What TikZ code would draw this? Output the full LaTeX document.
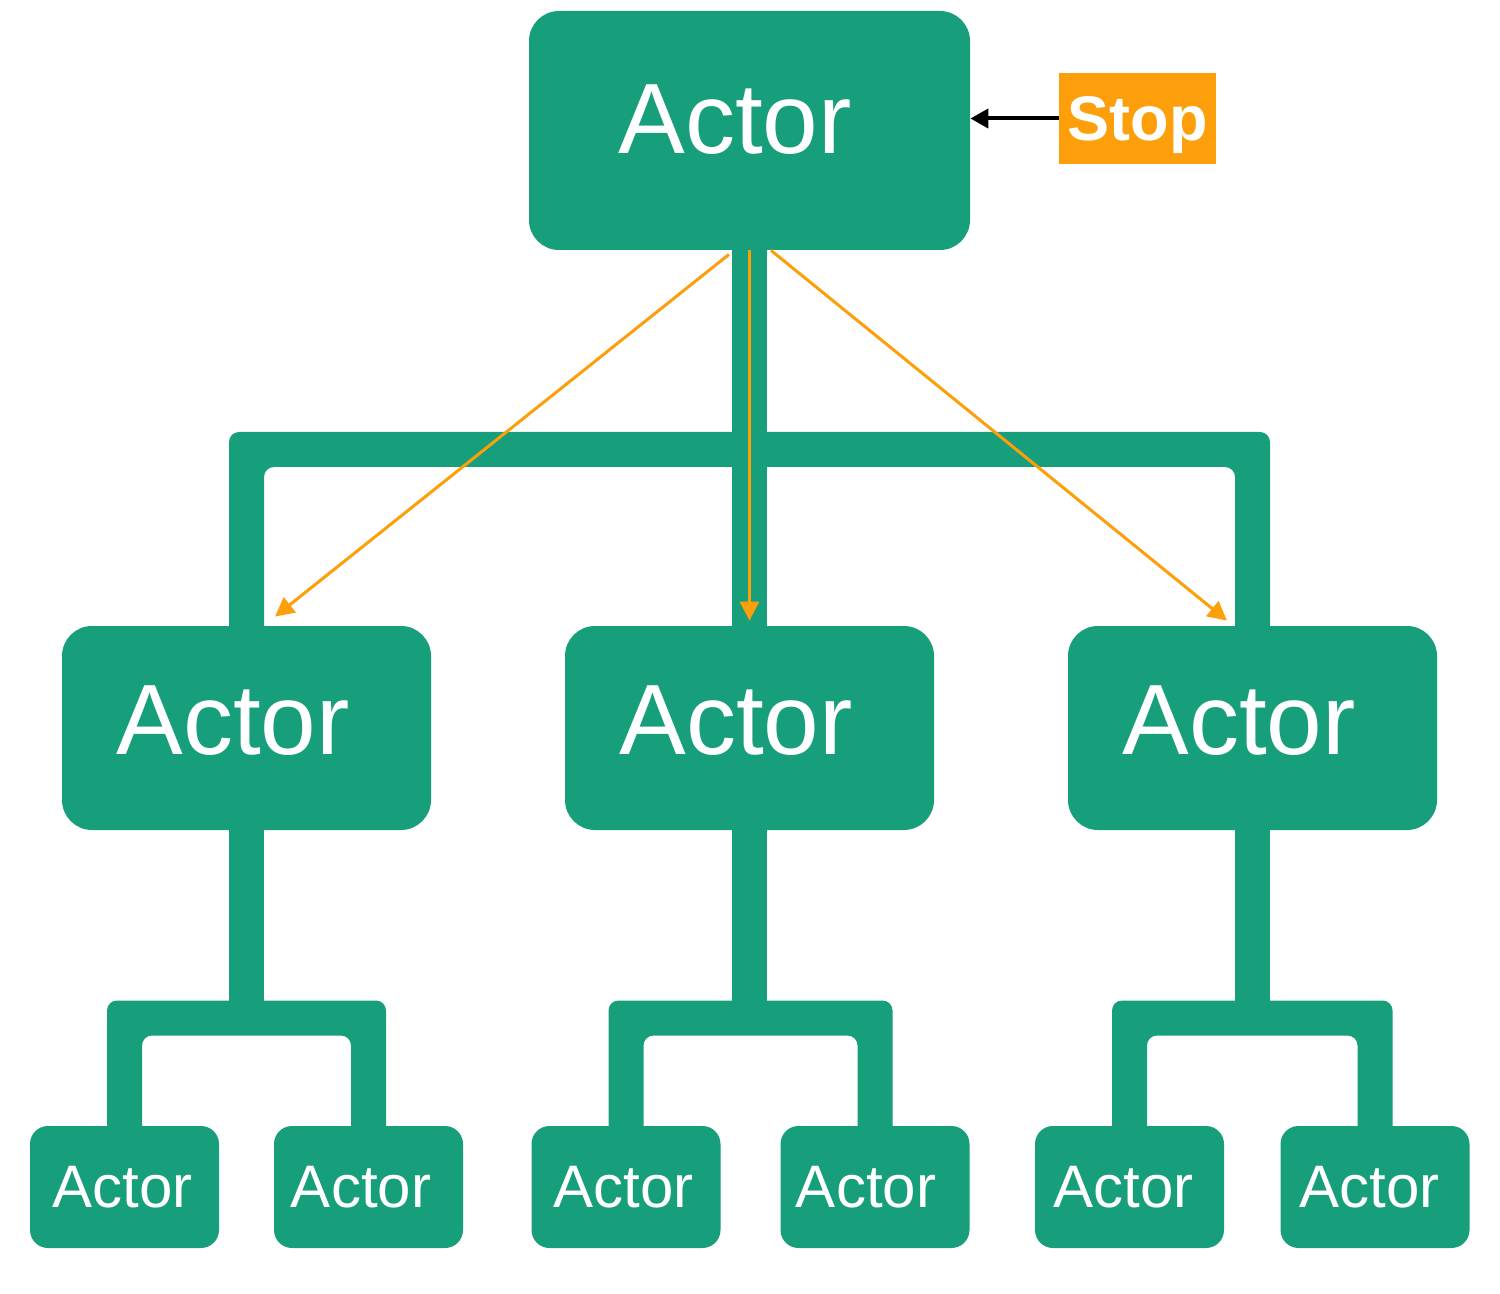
\documentclass[tikz,border=0pt]{standalone}
\usepackage{fontspec}
\setmainfont{Liberation Sans}
\usetikzlibrary{arrows.meta,calc}
\definecolor{actgreen}{RGB}{23,158,123}
\definecolor{stoporange}{RGB}{253,158,11}
\pgfdeclarelayer{background}
\pgfsetlayers{background,main}
\newcommand{\bigactor}{\raisebox{11pt}{\hspace*{-14.5pt}Actor}}
\newcommand{\midactor}{\raisebox{8pt}{\hspace*{-13.5pt}Actor}}
\newcommand{\smallactor}[1]{\hspace*{-#1pt}Actor}
\newcommand{\piconn}[3]{%
  \fill[conn] ([xshift=-8.75pt,yshift=-7pt]#1.north) |- ([yshift=8.75pt]#3)
    -| ([xshift=8.75pt,yshift=-7pt]#2.north) -- ([xshift=-8.75pt,yshift=-7pt]#2.north)
    |- ([yshift=-8.75pt]#3) -| ([xshift=8.75pt,yshift=-7pt]#1.north) -- cycle;}
\begin{document}
\begin{tikzpicture}[x=0.5pt,y=-0.5pt,
  actorbox/.style={fill=actgreen, text=white, inner sep=0pt},
  bigbox/.style={actorbox, minimum width=220.5pt, minimum height=119.5pt, rounded corners=15pt, font=\fontsize{50}{60}\selectfont},
  midbox/.style={actorbox, minimum width=184.5pt, minimum height=102pt, rounded corners=15pt, font=\fontsize{50}{60}\selectfont},
  smallbox/.style={actorbox, minimum width=94.5pt, minimum height=61pt, rounded corners=9pt, font=\fontsize{30}{36}\selectfont},
  stopbox/.style={fill=stoporange, text=white, inner sep=0pt, minimum width=78.5pt, minimum height=45.5pt, text depth=0pt, font=\fontsize{31.5}{38}\selectfont\bfseries},
  conn/.style={fill=actgreen, rounded corners=5pt},
  trunk/.style={fill=actgreen},
  orangearrow/.style={draw=stoporange, line width=1.5pt, -{Triangle[length=9.5pt,width=9.5pt]}},
  blackarrow/.style={draw=black, line width=2pt, -{Triangle[length=9pt,width=9.5pt]}}
]
\useasboundingbox (0,0) rectangle (1500,1294);

\node[bigbox] (top) at (749.5,130.5) {\bigactor};
\node[stopbox] (stop) at (1137.5,118.5) {Stop};

\node[midbox] (m1) at (246.5,728) {\midactor};
\node[midbox] (m2) at (749.5,728) {\midactor};
\node[midbox] (m3) at (1252.5,728) {\midactor};

\node[smallbox] (b1) at (124.5,1187) {\smallactor{2}};
\node[smallbox] (b2) at (368.5,1187) {\smallactor{7.5}};
\node[smallbox] (b3) at (626,1187) {\smallactor{2.5}};
\node[smallbox] (b4) at (875,1187) {\smallactor{9}};
\node[smallbox] (b5) at (1129.5,1187) {\smallactor{6}};
\node[smallbox] (b6) at (1375,1187) {\smallactor{5.5}};

\coordinate (bar1) at (749.5,449.5);
\coordinate (bar2) at (246.5,1018);
\coordinate (bar3) at (749.5,1018);
\coordinate (bar4) at (1252.5,1018);

\begin{pgfonlayer}{background}
  \piconn{m1}{m3}{bar1}
  \fill[trunk] ([xshift=-8.75pt,yshift=7pt]top.south) rectangle ([xshift=8.75pt,yshift=-7pt]m2.north);
  \piconn{b1}{b2}{bar2}
  \fill[trunk] ([xshift=-8.75pt,yshift=7pt]m1.south) rectangle ([xshift=8.75pt]bar2);
  \piconn{b3}{b4}{bar3}
  \fill[trunk] ([xshift=-8.75pt,yshift=7pt]m2.south) rectangle ([xshift=8.75pt]bar3);
  \piconn{b5}{b6}{bar4}
  \fill[trunk] ([xshift=-8.75pt,yshift=7pt]m3.south) rectangle ([xshift=8.75pt]bar4);
\end{pgfonlayer}

\draw[orangearrow] ([xshift=-10.25pt,yshift=-2pt]top.south) -- ([xshift=14.25pt,yshift=4.5pt]m1.north);
\draw[orangearrow] (top.south) -- ([yshift=2.5pt]m2.north);
\draw[orangearrow] ([xshift=10.75pt]top.south) -- ([xshift=-12.75pt,yshift=2.5pt]m3.north);

\draw[blackarrow] (stop.west) -- (stop.west -| top.east);
\end{tikzpicture}
\end{document}
